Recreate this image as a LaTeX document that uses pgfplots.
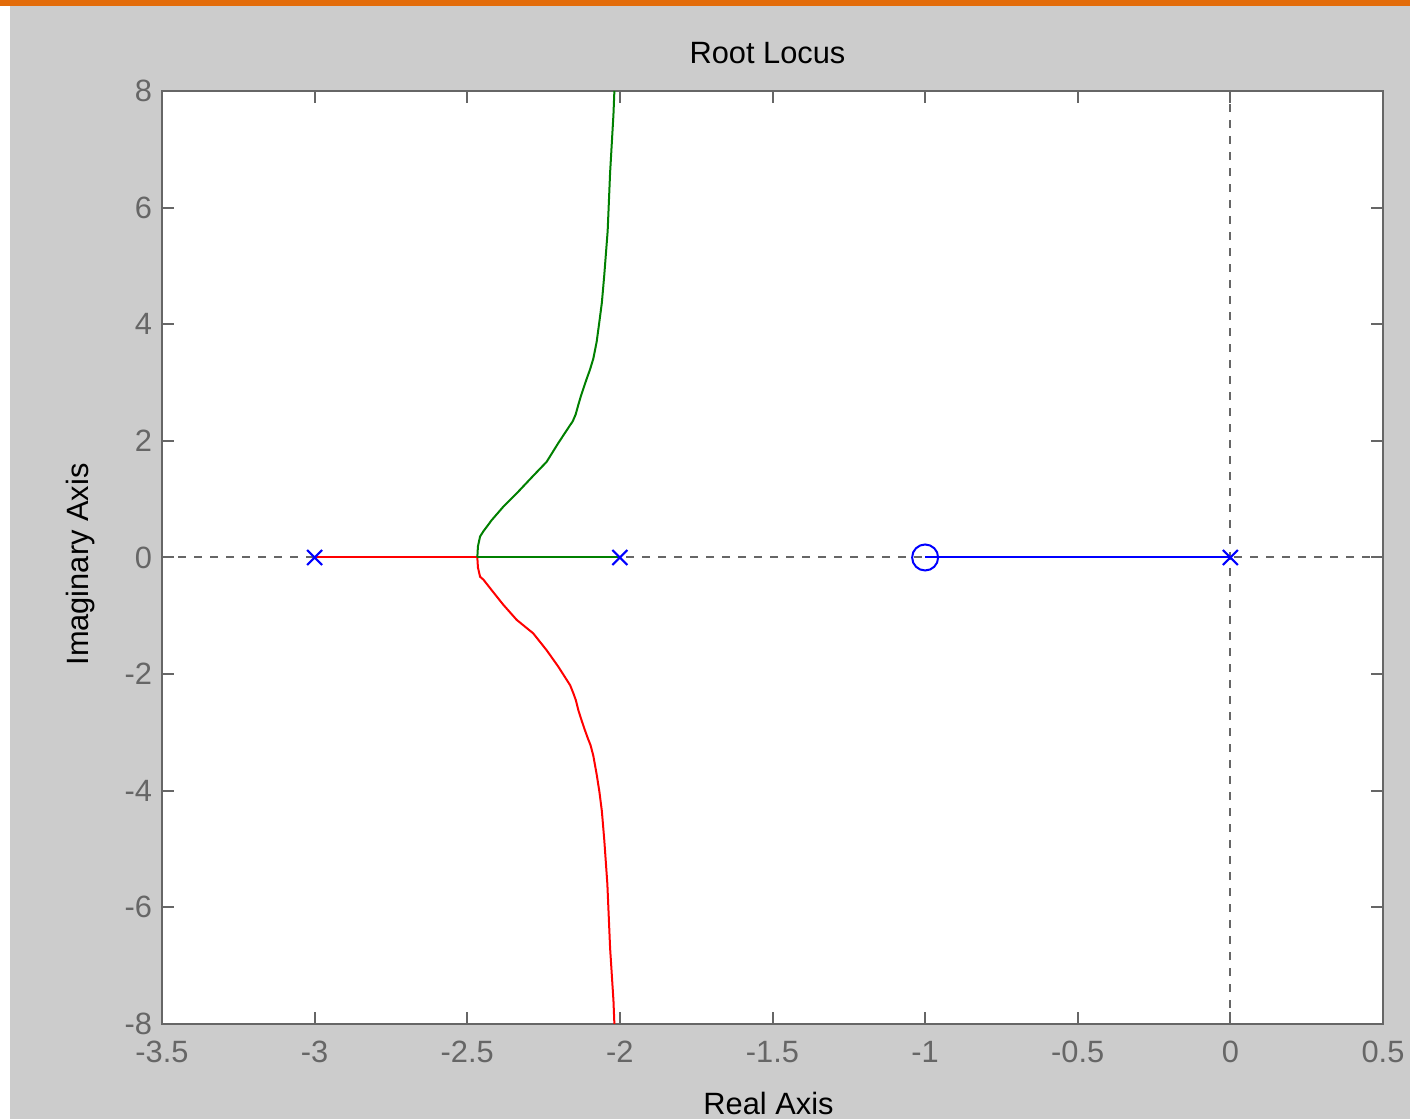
\documentclass[border=0pt]{standalone}
\usepackage{pgfplots}
\pgfplotsset{compat=1.18}
\usepackage{fontspec}
\setmainfont{Liberation Sans}
\definecolor{bggray}{HTML}{CCCCCC}
\definecolor{topor}{HTML}{E36C0A}
\definecolor{axgray}{HTML}{666666}
\definecolor{mgreen}{RGB}{0,128,0}
\begin{document}
\begin{tikzpicture}
\fill[white] (0pt,0pt) rectangle (705pt,559.5pt);
\fill[bggray] (5pt,0pt) rectangle (705pt,556.5pt);
\fill[topor] (0pt,556.5pt) rectangle (705pt,559.5pt);
\begin{axis}[
  at={(81pt,47.5pt)}, anchor=south west,
  width=610.5pt, height=466.5pt, scale only axis,
  xmin=-3.5, xmax=0.5, ymin=-8, ymax=8,
  xtick={-3.5,-3,-2.5,-2,-1.5,-1,-0.5,0,0.5},
  ytick={-8,-6,-4,-2,0,2,4,6,8},
  tick align=inside, major tick length=6pt,
  axis background/.style={fill=white},
  axis line style={draw=axgray, line width=1pt},
  every tick/.style={axgray, line width=1pt},
  /pgf/number format/assume math mode=true,
  /pgf/number format/fixed,
  tick label style={font=\fontsize{15.4}{18}\selectfont, text=axgray},
  xticklabel style={anchor=center, yshift=-14pt},
  yticklabel style={anchor=east, xshift=-1.5pt},
  title={Root Locus},
  title style={font=\fontsize{15.4}{18}\selectfont, at={(axis description cs:0.5,1)}, anchor=center, yshift=13pt, xshift=-2.5pt},
  xlabel={Real Axis},
  xlabel style={font=\fontsize{15.4}{18}\selectfont, at={(axis description cs:0.5,0)}, anchor=center, yshift=-39.5pt, xshift=-2pt},
  ylabel={Imaginary Axis},
  ylabel style={font=\fontsize{15.4}{18}\selectfont, at={(axis description cs:0,0.5)}, anchor=center, yshift=40.5pt, xshift=-3.5pt},
  clip=true,
]
\addplot[axgray, line width=1pt, dash pattern=on 4pt off 4pt] coordinates {(-3.5,0) (0.5,0)};
\addplot[axgray, line width=1pt, dash pattern=on 4pt off 4pt] coordinates {(0,-8) (0,8)};
% red branch
\addplot[red, line width=1pt] coordinates {(-3,0) (-2.467,0)};
\addplot[red, line width=1pt] coordinates {
(-2.467,0) (-2.465,-0.17) (-2.458,-0.33) (-2.447,-0.38) (-2.42,-0.56) (-2.382,-0.81)
(-2.338,-1.07) (-2.284,-1.30) (-2.24,-1.59) (-2.202,-1.87) (-2.163,-2.19) (-2.153,-2.32)
(-2.144,-2.45) (-2.136,-2.62) (-2.125,-2.80) (-2.116,-2.94) (-2.105,-3.10) (-2.096,-3.22)
(-2.087,-3.40) (-2.076,-3.72) (-2.067,-4.02) (-2.059,-4.35) (-2.051,-4.85) (-2.041,-5.6)
(-2.032,-6.7) (-2.021,-7.6) (-2.018,-8)};
% green branch
\addplot[mgreen, line width=1pt] coordinates {(-2.467,0) (-2,0)};
\addplot[mgreen, line width=1pt] coordinates {
(-2.467,0) (-2.465,0.19) (-2.458,0.36) (-2.447,0.45) (-2.42,0.64) (-2.382,0.87)
(-2.338,1.10) (-2.284,1.40) (-2.24,1.64) (-2.202,1.96) (-2.163,2.27) (-2.155,2.33)
(-2.145,2.45) (-2.136,2.62) (-2.127,2.78) (-2.118,2.92) (-2.109,3.06) (-2.098,3.22)
(-2.087,3.41) (-2.076,3.70) (-2.067,4.05) (-2.059,4.37) (-2.051,4.85) (-2.040,5.6)
(-2.032,6.6) (-2.021,7.6) (-2.018,8)};
% blue branch
\addplot[blue, line width=1pt] coordinates {(-1,0) (0,0)};
% poles and zero
\addplot[blue, only marks, mark=x, mark size=5.3pt, line width=1pt] coordinates {(-3,0) (-2,0) (0,0)};
\addplot[blue, only marks, mark=o, mark size=6.5pt, line width=1pt] coordinates {(-1,0)};
\end{axis}
\pgfresetboundingbox
\path[use as bounding box] (0pt,0pt) rectangle (705pt,559.5pt);
\end{tikzpicture}
\end{document}
